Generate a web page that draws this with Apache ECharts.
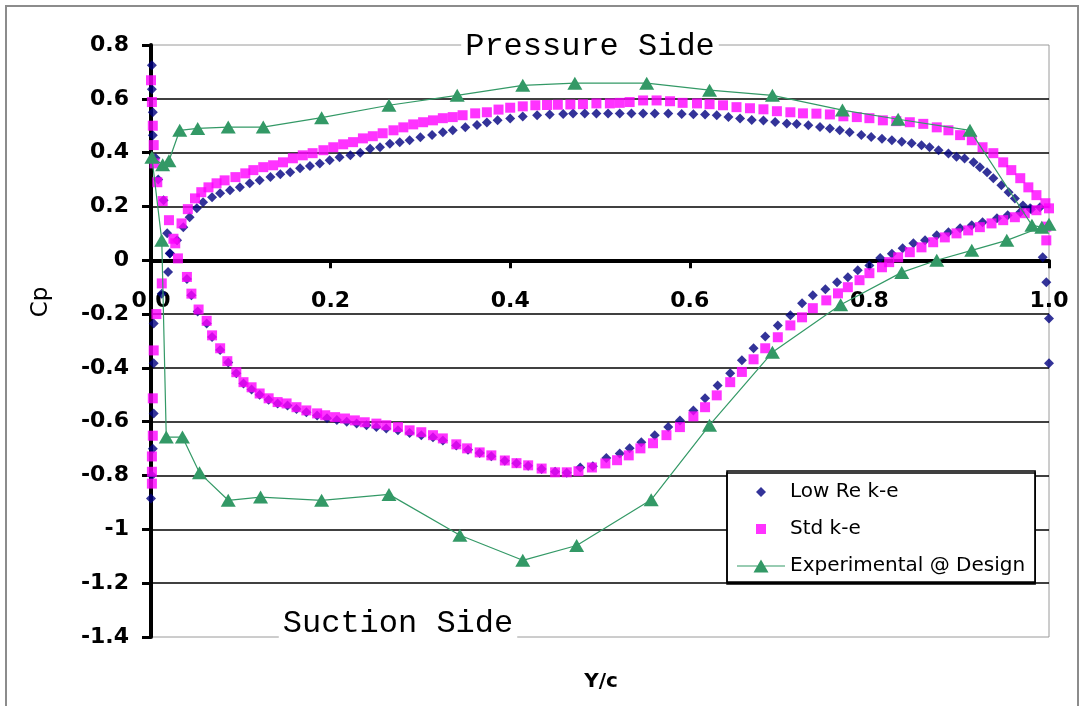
<!DOCTYPE html>
<html><head><meta charset="utf-8">
<script src="https://cdn.jsdelivr.net/npm/echarts@6/dist/echarts.min.js"></script>
<style>html,body{margin:0;padding:0;background:#fff}#c{width:1084px;height:706px}</style>
</head><body><div id="c"></div>
<script>
// ---------- data (x = Y/c, y = Cp) ----------
const seriesNames = ['Low Re k-e', 'Std k-e', 'Experimental @ Design'];
const xAxisTitle = 'Y/c';
const yAxisTitle = 'Cp';
const sideLabels = ['Pressure Side', 'Suction Side'];
const xRange = [0, 1, 0.2];
const yRange = [-1.4, 0.8, 0.2];

const lowReLeadingEdge = [
  [0.001,0.725],[0.001,0.636],[0.002,0.55],[0.002,0.465],[0.005,0.38],[0.008,0.30],[0.014,0.223],
  [0.018,0.10],[0.021,0.025],[0.019,-0.044],[0.012,-0.124],[0.003,-0.235],[0.003,-0.383],
  [0.003,-0.569],[0.002,-0.70],[0.001,-0.80],[0.0,-0.885]
];
const lowRePressureSide = [
  [0.021,0.026],[0.029,0.074],[0.036,0.123],[0.043,0.16],[0.051,0.193],[0.058,0.216],[0.068,0.234],
  [0.077,0.249],[0.088,0.26],[0.099,0.271],[0.11,0.286],[0.121,0.297],[0.133,0.309],[0.144,0.32],
  [0.155,0.327],[0.166,0.342],[0.177,0.35],[0.188,0.36],[0.199,0.372],[0.21,0.383],[0.222,0.39],
  [0.233,0.40],[0.244,0.414],[0.255,0.42],[0.266,0.433],[0.277,0.439],[0.288,0.446],[0.30,0.457],
  [0.313,0.466],[0.325,0.476],[0.336,0.483],[0.35,0.494],[0.363,0.503],[0.374,0.512],[0.386,0.52],
  [0.40,0.527],[0.414,0.534],[0.43,0.539],[0.444,0.542],[0.459,0.544],[0.47,0.545],[0.483,0.545],
  [0.496,0.545],[0.509,0.545],[0.522,0.545],[0.535,0.545],[0.548,0.545],[0.561,0.545],[0.576,0.545],
  [0.591,0.544],[0.604,0.543],[0.617,0.542],[0.63,0.539],[0.643,0.532],[0.656,0.527],[0.669,0.521],
  [0.682,0.519],[0.695,0.514],[0.708,0.508],[0.719,0.506],[0.732,0.502],[0.745,0.495],[0.756,0.49],
  [0.767,0.483],[0.778,0.476],[0.791,0.466],[0.802,0.458],[0.814,0.452],[0.825,0.446],[0.836,0.44],
  [0.847,0.435],[0.858,0.427],[0.867,0.42],[0.877,0.409],[0.888,0.397],[0.897,0.385],[0.906,0.378],
  [0.916,0.364],[0.923,0.346],[0.931,0.327],[0.938,0.305],[0.947,0.279],[0.955,0.253],[0.962,0.23],
  [0.971,0.204],[0.98,0.19]
];
const lowReSuctionSide = [
  [0.04,-0.07],[0.045,-0.13],[0.052,-0.19],[0.062,-0.235],[0.068,-0.285],[0.077,-0.333],[0.086,-0.38],
  [0.095,-0.42],[0.103,-0.458],[0.112,-0.48],[0.121,-0.5],[0.131,-0.518],[0.141,-0.532],[0.152,-0.54],
  [0.162,-0.553],[0.173,-0.565],[0.185,-0.577],[0.196,-0.587],[0.207,-0.594],[0.218,-0.6],[0.229,-0.607],
  [0.24,-0.613],[0.251,-0.62],[0.262,-0.625],[0.275,-0.632],[0.288,-0.642],[0.301,-0.65],[0.314,-0.658],
  [0.325,-0.67],[0.34,-0.688],[0.353,-0.704],[0.366,-0.716],[0.379,-0.728],[0.394,-0.745],[0.407,-0.754],
  [0.42,-0.764],[0.435,-0.776],[0.45,-0.786],[0.463,-0.79],[0.478,-0.77],[0.492,-0.765],[0.507,-0.735],
  [0.522,-0.718],[0.533,-0.699],[0.546,-0.676],[0.561,-0.65],[0.576,-0.62],[0.589,-0.595],[0.604,-0.558],
  [0.617,-0.513],[0.631,-0.465],[0.645,-0.42],[0.658,-0.372],[0.671,-0.327],[0.684,-0.283],[0.698,-0.242],
  [0.712,-0.204],[0.725,-0.16],[0.737,-0.13],[0.751,-0.108],[0.764,-0.082],[0.776,-0.063],[0.787,-0.037],
  [0.80,-0.019],[0.812,0.008],[0.825,0.024],[0.837,0.045],[0.849,0.063],[0.862,0.074],[0.875,0.093],
  [0.888,0.104],[0.901,0.119],[0.914,0.13],[0.926,0.141],[0.942,0.156],[0.954,0.167],[0.968,0.178],
  [0.979,0.193],[0.99,0.197]
];
const lowReTrailingEdge = [[0.993,0.011],[0.997,-0.082],[1.0,-0.216],[1.0,-0.383]];

const stdLeadingEdge = [
  [0.0,0.669],[0.001,0.588],[0.002,0.50],[0.003,0.428],[0.004,0.36],[0.007,0.29],[0.013,0.22],
  [0.02,0.149],[0.025,0.08],[0.03,0.007],[0.012,-0.086],[0.006,-0.2],[0.003,-0.335],[0.002,-0.513],
  [0.002,-0.652],[0.001,-0.729],[0.001,-0.786],[0.001,-0.83]
];
const stdPressureSide = [
  [0.027,0.063],[0.034,0.137],[0.041,0.19],[0.049,0.23],[0.056,0.253],[0.064,0.271],[0.073,0.286],
  [0.082,0.297],[0.094,0.309],[0.105,0.323],[0.114,0.335],[0.125,0.346],[0.136,0.353],[0.147,0.364],
  [0.158,0.379],[0.169,0.39],[0.18,0.398],[0.192,0.409],[0.203,0.42],[0.214,0.431],[0.225,0.439],
  [0.236,0.453],[0.247,0.461],[0.258,0.472],[0.27,0.483],[0.281,0.494],[0.292,0.505],[0.303,0.513],
  [0.314,0.52],[0.325,0.528],[0.336,0.532],[0.347,0.539],[0.361,0.546],[0.374,0.55],[0.387,0.56],
  [0.40,0.567],[0.414,0.572],[0.428,0.576],[0.441,0.577],[0.453,0.578],[0.467,0.579],[0.481,0.58],
  [0.496,0.583],[0.511,0.583],[0.522,0.585],[0.533,0.588],[0.548,0.594],[0.563,0.594],[0.578,0.591],
  [0.592,0.585],[0.608,0.583],[0.622,0.58],[0.637,0.576],[0.652,0.569],[0.667,0.565],[0.682,0.561],
  [0.697,0.554],[0.712,0.55],[0.726,0.546],[0.741,0.545],[0.756,0.542],[0.771,0.535],[0.786,0.532],
  [0.80,0.528],[0.815,0.52],[0.83,0.517],[0.845,0.513],[0.86,0.507],[0.875,0.494],[0.888,0.483],
  [0.901,0.465],[0.914,0.446],[0.926,0.42],[0.938,0.398],[0.949,0.364],[0.958,0.335],[0.968,0.305],
  [0.977,0.271],[0.986,0.242],[0.996,0.212],[1.0,0.193]
];
const stdSuctionSide = [
  [0.04,-0.062],[0.045,-0.124],[0.053,-0.183],[0.062,-0.225],[0.068,-0.279],[0.077,-0.327],[0.085,-0.375],
  [0.095,-0.416],[0.103,-0.453],[0.112,-0.472],[0.121,-0.495],[0.131,-0.513],[0.141,-0.527],[0.151,-0.532],
  [0.162,-0.546],[0.173,-0.558],[0.185,-0.569],[0.194,-0.576],[0.205,-0.583],[0.216,-0.588],[0.227,-0.595],
  [0.238,-0.602],[0.251,-0.607],[0.262,-0.613],[0.275,-0.62],[0.288,-0.632],[0.301,-0.639],[0.314,-0.65],
  [0.325,-0.662],[0.34,-0.684],[0.352,-0.699],[0.366,-0.714],[0.379,-0.725],[0.394,-0.744],[0.407,-0.754],
  [0.42,-0.762],[0.435,-0.774],[0.45,-0.788],[0.463,-0.788],[0.476,-0.784],[0.491,-0.77],[0.506,-0.755],
  [0.519,-0.743],[0.532,-0.725],[0.545,-0.699],[0.559,-0.68],[0.574,-0.65],[0.589,-0.62],[0.604,-0.58],
  [0.617,-0.546],[0.63,-0.502],[0.645,-0.453],[0.658,-0.415],[0.671,-0.368],[0.684,-0.327],[0.698,-0.286],
  [0.712,-0.242],[0.725,-0.212],[0.737,-0.178],[0.752,-0.149],[0.765,-0.123],[0.776,-0.1],[0.789,-0.074],
  [0.80,-0.048],[0.814,-0.026],[0.822,-0.007],[0.832,0.011],[0.845,0.03],[0.858,0.048],[0.871,0.067],
  [0.884,0.085],[0.897,0.1],[0.91,0.111],[0.923,0.123],[0.936,0.137],[0.949,0.149],[0.962,0.16],
  [0.973,0.175],[0.986,0.186]
];
const stdTrailingEdge = [[0.997,0.125],[0.997,0.074]];

// experimental points, in measurement order (suction side TE -> LE, then pressure side LE -> TE)
const experimental = [
  [1.0,0.134],[0.953,0.074],[0.914,0.037],[0.875,0.0],[0.836,-0.045],[0.768,-0.165],[0.692,-0.342],
  [0.622,-0.613],[0.557,-0.89],[0.474,-1.06],[0.414,-1.115],[0.344,-1.022],[0.265,-0.87],[0.19,-0.892],
  [0.122,-0.88],[0.086,-0.892],[0.054,-0.79],[0.035,-0.657],[0.017,-0.657],[0.012,0.074],[0.001,0.383],
  [0.013,0.355],[0.02,0.37],[0.032,0.483],[0.052,0.49],[0.086,0.495],[0.125,0.495],[0.19,0.53],
  [0.265,0.576],[0.341,0.613],[0.414,0.65],[0.472,0.658],[0.552,0.658],[0.622,0.632],[0.692,0.613],
  [0.770,0.558],[0.832,0.524],[0.912,0.483],[0.981,0.13],[0.992,0.123]
];

// ---------- chart ----------
const chart = echarts.init(document.getElementById('c'), null, {renderer: 'canvas'});
const SANS = 'DejaVu Sans';
const GRID = {left: 151, right: 35, top: 45, bottom: 69};
// legend icons drawn in a 48x14 box (corner points keep the box size)
const BOX = 'M0,0L0,0M48,14L48,14';
const iconDiamond = 'path://' + BOX + 'M24,2L29,7L24,12L19,7Z';
const iconSquare = 'path://' + BOX + 'M19,2L29,2L29,12L19,12Z';
const iconLineTriangle = 'path://' + BOX + 'M0,6.4L48,6.4L48,7.6L0,7.6ZM24,0.5L31.5,13.5L16.5,13.5Z';

const option = {
  backgroundColor: '#fff',
  animation: false,
  grid: Object.assign({show: true, borderColor: '#9a9a9a', borderWidth: 1, backgroundColor: 'transparent'}, GRID),
  xAxis: {
    type: 'value', min: xRange[0], max: xRange[1], interval: xRange[2],
    axisLine: {onZero: false, lineStyle: {color: '#000', width: 4}},
    axisTick: {show: true, inside: false, length: 8, lineStyle: {color: '#000', width: 3}},
    axisLabel: {margin: 30, color: '#000', fontFamily: SANS, fontSize: 22, fontWeight: 'bold',
      formatter: v => v.toFixed(1)},
    splitLine: {show: false}
  },
  yAxis: {
    type: 'value', min: yRange[0], max: yRange[1], interval: yRange[2],
    axisLine: {show: true, onZero: false, lineStyle: {color: '#000', width: 4}},
    axisTick: {show: true, inside: false, length: 9, lineStyle: {color: '#000', width: 3}},
    axisLabel: {margin: 22, color: '#000', fontFamily: SANS, fontSize: 22, fontWeight: 'bold',
      formatter: v => String(Math.round(v * 10) / 10)},
    splitLine: {show: true, showMinLine: false, showMaxLine: false, lineStyle: {color: '#000', width: 1.5}}
  },
  legend: {
    orient: 'vertical', left: 727, top: 471,
    padding: [11, 10, 6, 10], itemGap: 17, itemWidth: 48, itemHeight: 14,
    backgroundColor: '#fff', borderColor: '#000', borderWidth: 1.5,
    shadowColor: '#000', shadowOffsetY: 2, shadowBlur: 0,
    itemStyle: {borderWidth: 0},
    textStyle: {color: '#000', fontFamily: SANS, fontSize: 20, lineHeight: 20},
    data: [
      {name: seriesNames[0], icon: iconDiamond},
      {name: seriesNames[1], icon: iconSquare},
      {name: seriesNames[2], icon: iconLineTriangle}
    ]
  },
  series: [
    {name: seriesNames[0], type: 'scatter', symbol: 'diamond', symbolSize: 10, clip: false,
      itemStyle: {color: '#000080'},
      data: [].concat(lowReLeadingEdge, lowRePressureSide, lowReSuctionSide, lowReTrailingEdge)},
    {name: seriesNames[1], type: 'scatter', symbol: 'rect', symbolSize: 10, clip: false,
      itemStyle: {color: '#ff00ff'},
      data: [].concat(stdLeadingEdge, stdPressureSide, stdSuctionSide, stdTrailingEdge)},
    {name: seriesNames[2], type: 'line', symbol: 'triangle', symbolSize: [15, 13], clip: false,
      itemStyle: {color: '#339966', borderWidth: 0}, lineStyle: {color: '#339966', width: 1.2},
      data: experimental}
  ],
  graphic: [
    {type: 'rect', z: -10, shape: {x: 6, y: 6, width: 1072, height: 720},
      style: {fill: 'none', stroke: '#8c8c8c', lineWidth: 2}},
    {type: 'text', z: 100, x: 590, y: 47,
      style: {text: sideLabels[0], font: '32px "Liberation Mono", monospace', fill: '#000',
        align: 'center', verticalAlign: 'middle', backgroundColor: '#fff', padding: [4, 4]}},
    {type: 'text', z: 100, x: 398, y: 624,
      style: {text: sideLabels[1], font: '32px "Liberation Mono", monospace', fill: '#000',
        align: 'center', verticalAlign: 'middle', backgroundColor: '#fff', padding: [4, 4, 12, 4]}},
    {type: 'text', z: 100, x: 41, y: 302, rotation: Math.PI / 2,
      style: {text: yAxisTitle, font: '23px "DejaVu Sans"', fill: '#000', align: 'center', verticalAlign: 'middle'}},
    {type: 'text', z: 100, x: 601, y: 682,
      style: {text: xAxisTitle, font: 'bold 20px "DejaVu Sans"', fill: '#000', align: 'center', verticalAlign: 'middle'}}
  ]
};
chart.setOption(option);
// move the x axis (line, ticks and labels) up to Cp = 0, as in the original chart
const zeroPx = chart.convertToPixel({yAxisIndex: 0}, 0);
const bottomPx = chart.getHeight() - GRID.bottom;
chart.setOption({xAxis: {offset: -(bottomPx - zeroPx)}});
</script>
</body></html>
